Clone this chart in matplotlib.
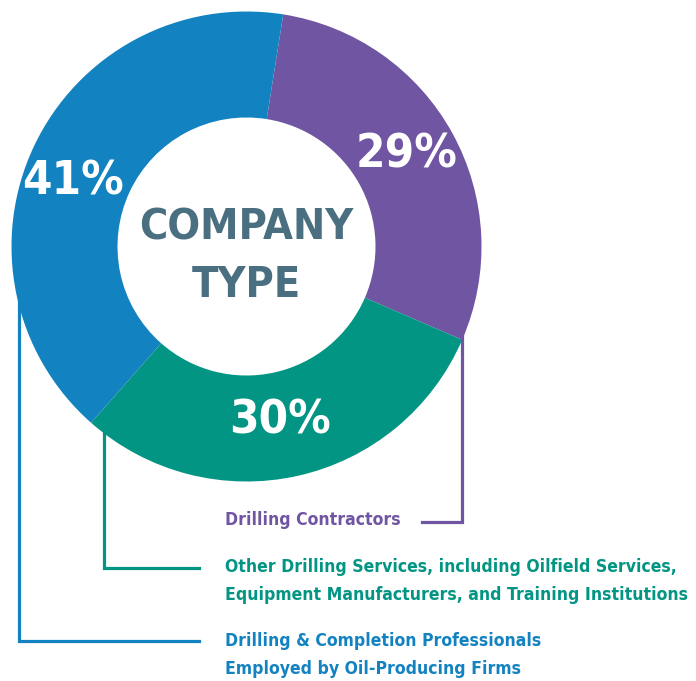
import matplotlib
matplotlib.use("Agg")
import matplotlib.pyplot as plt
from matplotlib import font_manager

# data
categories = ["Drilling Contractors",
              "Other Drilling Services, including Oilfield Services,\nEquipment Manufacturers, and Training Institutions",
              "Drilling & Completion Professionals\nEmployed by Oil-Producing Firms"]
shares = [29, 30, 41]
pct_labels = ["29%", "30%", "41%"]
colors = ["#6f55a2", "#039583", "#1382c0"]
center_title = "COMPANY\nTYPE"

# pick the narrowest bold font we have
names = {f.name for f in font_manager.fontManager.ttflist}
if "Liberation Sans Narrow" in names:
    font = dict(family="Liberation Sans Narrow", weight="bold")
else:
    font = dict(family="DejaVu Sans", weight="bold", stretch="condensed")

W, H = 696, 681
fig = plt.figure(figsize=(W / 100, H / 100), dpi=100)
ax = fig.add_axes([0, 0, 1, 1])

def py(y):
    # pixel row (from top) -> data y
    return H - y

cx, cy = 246.5, py(246.5)
r_out, r_in = 235, 129

ax.pie(shares, colors=colors, startangle=81, counterclock=False,
       center=(cx, cy), radius=r_out,
       wedgeprops=dict(width=r_out - r_in, linewidth=0))

ax.set_xlim(0, W)
ax.set_ylim(0, H)
ax.set_aspect("equal")
ax.axis("off")

# percentage labels on the ring
pct_pos = [(407, 155), (280, 421), (73, 182)]
for lab, (x, y) in zip(pct_labels, pct_pos):
    ax.text(x, py(y), lab, color="white", fontsize=34, ha="center", va="center", **font)

for line, y in zip(center_title.split("\n"), [227, 285]):
    ax.text(cx, py(y), line, color="#4a6f80", fontsize=31, ha="center", va="center", **font)

# leader lines + legend text
lw = 2.3
purple, green, blue = colors
ax.plot([462, 462, 422], [py(318), py(522), py(522)], color=purple, lw=lw, solid_joinstyle="miter")
ax.plot([103.5, 103.5, 199], [py(430), py(568), py(568)], color=green, lw=lw, solid_joinstyle="miter")
ax.plot([18.5, 18.5, 199], [py(300), py(641), py(641)], color=blue, lw=lw, solid_joinstyle="miter")

rows = [(categories[0], purple, [520]),
        (categories[1], green, [567, 595]),
        (categories[2], blue, [641, 669])]
for text, col, ys in rows:
    for line, y in zip(text.split("\n"), ys):
        ax.text(225, py(y), line, color=col, fontsize=12.6, ha="left", va="center", **font)

fig.savefig("out.png", dpi=100)
